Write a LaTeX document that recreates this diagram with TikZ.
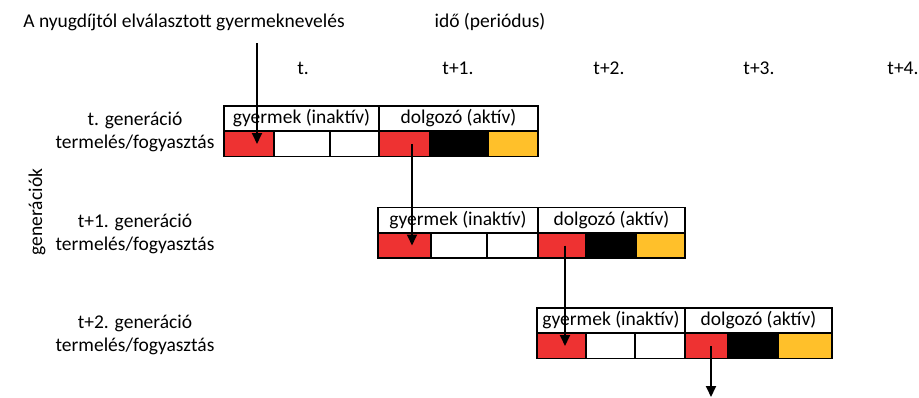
\documentclass[tikz,border=0pt]{standalone}
\usepackage{fontspec}
\setmainfont{Carlito}
\usetikzlibrary{arrows.meta}

\definecolor{cred}{RGB}{238,50,50}
\definecolor{cyellow}{RGB}{255,192,42}

\tikzset{
	txt/.style={font=\fontsize{19.5}{23}\selectfont, inner sep=0pt, align=center},
	head/.style={txt, draw, line width=1.6pt, minimum height=25pt},
	cell/.style={draw, line width=1.6pt, minimum height=25pt, inner sep=0pt},
	arr/.style={line width=1.8pt, -{Triangle[width=10pt,length=11pt]}}
}

\begin{document}
\begin{tikzpicture}[x=1pt, y=-1pt]
	\useasboundingbox (0,0) rectangle (919,397);

	% titles
	\node[txt] (title) at (184,22) {A nyugdíjtól elválasztott gyermeknevelés};
	\node[txt] (time) at (490,22) {idő (periódus)};

	\node[txt] (p0) at (303,68) {t.};
	\node[txt] (p1) at (458,68) {t+1.};
	\node[txt] (p2) at (609,68) {t+2.};
	\node[txt] (p3) at (759,68) {t+3.};
	\node[txt] (p4) at (903,68) {t+4.};

	\node[txt, rotate=90] (gens) at (37,212) {generációk};

	% t. generation
	\node[txt] (l0) at (135,132) {t. generáció\\termelés/fogyasztás};
	\node[head, minimum width=155pt] (g0c) at (301.5,118.5) {gyermek (inaktív)};
	\node[head, minimum width=159pt] (g0w) at (458.5,118.5) {dolgozó (aktív)};
	\node[cell, minimum width=50pt, fill=cred] (g0c1) at (249,144) {};
	\node[cell, minimum width=56pt] (g0c2) at (302,144) {};
	\node[cell, minimum width=49pt] (g0c3) at (354.5,144) {};
	\node[cell, minimum width=51pt, fill=cred] (g0w1) at (404.5,144) {};
	\node[cell, minimum width=58pt, fill=black] (g0w2) at (459,144) {};
	\node[cell, minimum width=50pt, fill=cyellow] (g0w3) at (513,144) {};

	% t+1. generation
	\node[txt] (l1) at (135,234) {t+1. generáció\\termelés/fogyasztás};
	\node[head, minimum width=160pt] (g1c) at (458,220) {gyermek (inaktív)};
	\node[head, minimum width=147pt] (g1w) at (611.5,220) {dolgozó (aktív)};
	\node[cell, minimum width=53pt, fill=cred] (g1c1) at (404.5,245.5) {};
	\node[cell, minimum width=56pt] (g1c2) at (459,245.5) {};
	\node[cell, minimum width=51pt] (g1c3) at (512.5,245.5) {};
	\node[cell, minimum width=48pt, fill=cred] (g1w1) at (562,245.5) {};
	\node[cell, minimum width=50pt, fill=black] (g1w2) at (611,245.5) {};
	\node[cell, minimum width=49pt, fill=cyellow] (g1w3) at (660.5,245.5) {};

	% t+2. generation
	\node[txt] (l2) at (135,335) {t+2. generáció\\termelés/fogyasztás};
	\node[head, minimum width=148pt] (g2c) at (611,320.5) {gyermek (inaktív)};
	\node[head, minimum width=147pt] (g2w) at (758.5,320.5) {dolgozó (aktív)};
	\node[cell, minimum width=49pt, fill=cred] (g2c1) at (561.5,346) {};
	\node[cell, minimum width=49pt] (g2c2) at (610.5,346) {};
	\node[cell, minimum width=50pt] (g2c3) at (660,346) {};
	\node[cell, minimum width=43pt, fill=cred] (g2w1) at (706.5,346) {};
	\node[cell, minimum width=50pt, fill=black] (g2w2) at (753,346) {};
	\node[cell, minimum width=54pt, fill=cyellow] (g2w3) at (805,346) {};

	% arrows
	\coordinate (s1) at (257,43);
	\coordinate (e4) at (711,397);
	\draw[arr] (s1) -- (s1 |- g0c1.center);
	\draw[arr] ([xshift=7.5pt]g0w1.center) -- ([xshift=7.5pt]g0w1.center |- g1c1.center);
	\draw[arr] ([xshift=3pt]g1w1.center) -- ([xshift=3pt]g1w1.center |- g2c1.center);
	\draw[arr] (e4 |- g2w1.center) -- (e4);
\end{tikzpicture}
\end{document}
